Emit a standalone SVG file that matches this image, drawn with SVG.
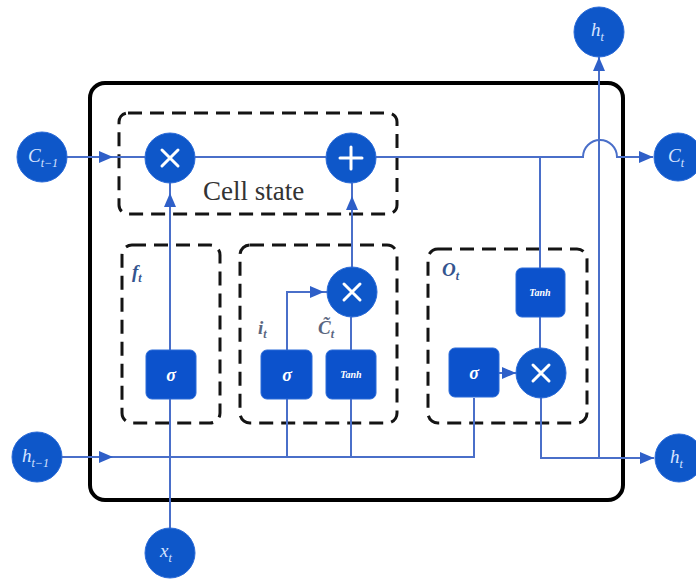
<svg xmlns="http://www.w3.org/2000/svg" width="696" height="579" viewBox="0 0 696 579">
<defs>
<style>
.node circle{fill:#0E57C9;stroke:#2a6ad8;stroke-width:1}
.gate rect{fill:#0C52CC;stroke:#2a6ad8;stroke-width:1}
.io{font-family:"Liberation Serif",serif;font-style:italic;fill:#d6e4ff;font-size:19px}
.sub{font-size:12px}
.op{stroke:#ffffff;stroke-width:3;fill:none;stroke-linecap:round}
.dash{fill:none;stroke:#141414;stroke-width:3;stroke-dasharray:14 8}
.conn path{fill:none;stroke:#4A6FC9;stroke-width:2}
.lbl{font-family:"Liberation Serif",serif;font-style:italic;font-weight:bold;font-size:19px}
.gt{font-family:"Liberation Serif",serif;font-style:italic;font-weight:bold;fill:#ffffff;text-anchor:middle}
</style>
<marker id="ah" markerUnits="userSpaceOnUse" markerWidth="14" markerHeight="12" refX="14" refY="6" orient="auto">
<path d="M0,0 L14,6 L0,12 z" fill="#2E5FC8"/>
</marker>
</defs>
<rect width="696" height="579" fill="#ffffff"/>
<rect x="90" y="83" width="533" height="417" rx="15" fill="none" stroke="#000" stroke-width="4"/>
<g id="cellstate-box"><rect class="dash" x="119" y="113" width="278" height="101" rx="9"/>
<text x="203" y="200" font-family="Liberation Serif,serif" font-size="27" fill="#333">Cell state</text></g>
<g id="forget-box"><rect class="dash" x="122" y="245" width="98" height="178" rx="10"/>
<text class="lbl" x="132" y="278" fill="#34558f">f<tspan class="sub" dy="4">t</tspan></text></g>
<g id="input-box"><rect class="dash" x="240" y="245" width="157" height="178" rx="10"/>
<text class="lbl" x="258" y="334" fill="#5a6680">i<tspan class="sub" dy="4">t</tspan></text>
<text class="lbl" x="318" y="334" fill="#5a6680">C̃<tspan class="sub" dy="4">t</tspan></text></g>
<g id="output-box"><rect class="dash" x="428" y="249" width="159" height="174" rx="10"/>
<text class="lbl" x="442" y="276" fill="#34558f">O<tspan class="sub" dy="4">t</tspan></text></g>

<g class="conn" id="connectors">
<path d="M67,157 H113" marker-end="url(#ah)"/><path d="M113,157 H145"/>
<path d="M195,157 H326"/>
<path d="M376,157 H583 A17,17 0 0 1 617,157 H653" marker-end="url(#ah)"/>
<path d="M170,528 V193" marker-end="url(#ah)"/><path d="M170,193 V183"/>
<path d="M352,267 V196" marker-end="url(#ah)"/><path d="M352,196 V183"/>
<path d="M287,350 V292 H324" marker-end="url(#ah)"/><path d="M324,292 H327"/>
<path d="M351,350 V317"/>
<path d="M62,457 H113" marker-end="url(#ah)"/><path d="M113,457 H474 V398"/>
<path d="M287,399 V457"/><path d="M351,399 V457"/>
<path d="M499,373 H516" marker-end="url(#ah)"/>
<path d="M540,157 V268"/><path d="M540,317 V348"/>
<path d="M541,398 V458 H654" marker-end="url(#ah)"/>
<path d="M599,458 V57" marker-end="url(#ah)"/>
</g>

<g id="c-prev" class="node"><circle cx="42" cy="157" r="25"/><text class="io" x="28" y="162">C<tspan class="sub" dy="5">t−1</tspan></text></g>
<g id="h-prev" class="node"><circle cx="37" cy="457" r="25"/><text class="io" x="22" y="462">h<tspan class="sub" dy="5">t−1</tspan></text></g>
<g id="x-t" class="node"><circle cx="170" cy="553" r="25"/><text class="io" x="160" y="557">x<tspan class="sub" dy="5">t</tspan></text></g>
<g id="h-top" class="node"><circle cx="599" cy="32" r="25"/><text class="io" x="591" y="36">h<tspan class="sub" dy="5">t</tspan></text></g>
<g id="c-t" class="node"><circle cx="678" cy="157" r="24"/><text class="io" x="668" y="162">C<tspan class="sub" dy="5">t</tspan></text></g>
<g id="h-t" class="node"><circle cx="679" cy="458" r="24"/><text class="io" x="670" y="463">h<tspan class="sub" dy="5">t</tspan></text></g>

<g id="mul-forget" class="node"><circle cx="170" cy="158" r="25"/><path class="op" d="M162,150 L178,166 M178,150 L162,166"/></g>
<g id="add-cell" class="node"><circle cx="351" cy="158" r="25"/><path class="op" d="M351,147 V169 M340,158 H362"/></g>
<g id="mul-input" class="node"><circle cx="352" cy="292" r="25"/><path class="op" d="M344,284 L360,300 M360,284 L344,300"/></g>
<g id="mul-output" class="node"><circle cx="541" cy="373" r="25"/><path class="op" d="M533,365 L549,381 M549,365 L533,381"/></g>

<g id="sigma-f" class="gate"><rect x="146" y="350" width="50" height="49" rx="6"/><text class="gt" x="171" y="381" font-size="18">σ</text></g>
<g id="sigma-i" class="gate"><rect x="261" y="350" width="51" height="49" rx="6"/><text class="gt" x="287" y="381" font-size="18">σ</text></g>
<g id="tanh-i" class="gate"><rect x="326" y="350" width="50" height="49" rx="6"/><text class="gt" x="351" y="378" font-size="10">Tanh</text></g>
<g id="sigma-o" class="gate"><rect x="449" y="348" width="50" height="49" rx="6"/><text class="gt" x="474" y="379" font-size="18">σ</text></g>
<g id="tanh-o" class="gate"><rect x="516" y="268" width="49" height="49" rx="6"/><text class="gt" x="540" y="296" font-size="10">Tanh</text></g>
</svg>
